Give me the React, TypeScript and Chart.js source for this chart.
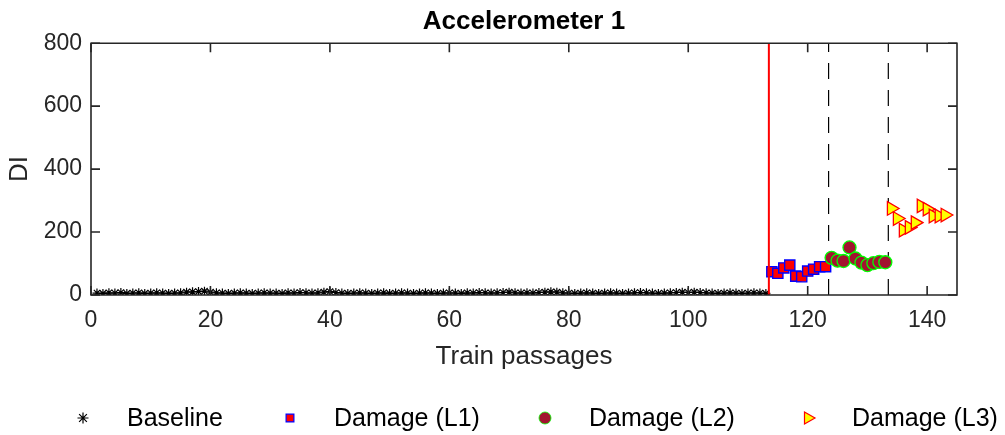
import React, { useEffect, useRef } from 'react';
import { Chart, registerables } from 'chart.js';
import { drawPoint } from 'chart.js/helpers';

Chart.register(...registerables);

// ---- data ----
const baselineDI = [
  6, 5, 7, 6, 8, 5, 6, 7, 5, 6, 7, 6, 5, 6, 7,
  9, 10, 11, 12, 9,
  7, 6, 5, 6, 7, 6, 5, 6, 7, 6, 6, 5, 7, 6, 8, 7, 6, 7, 9, 11,
  8, 6, 5, 6, 7, 6, 5, 6, 7, 5, 6, 7, 6, 5, 6, 7, 6, 5, 6, 7,
  6, 5, 7, 6, 8, 7, 6, 7, 8, 9, 7, 6, 7, 6, 8, 9, 10, 9, 7, 6,
  5, 6, 7, 6, 5, 6, 7, 6, 5, 6, 7, 8, 7, 6, 5, 6, 7, 8, 9, 8,
  9, 8, 7, 6, 5, 6, 7, 6, 5, 6, 7, 6, 5,
];
const damageL1DI = [74, 69, 86, 95, 60, 58, 76, 82, 90, 90];
const damageL2DI = [118, 109, 108, 151, 116, 103, 95, 101, 105, 104];
const damageL3DI = [275, 243, 206, 215, 230, 283, 273, 251, 251, 254];

const baselineStart = 1;
const l1Start = 114;
const l2Start = 124;
const l3Start = 134;

const damageOnset = 113.5;
const levelChanges = [123.5, 133.5];

const seriesLabels = ['Baseline', 'Damage (L1)', 'Damage (L2)', 'Damage (L3)'];
const chartTitle = 'Accelerometer 1';
const xTitle = 'Train passages';
const yTitle = 'DI';
const xRange = [0, 145];
const yRange = [0, 800];
const xStep = 20;
const yStep = 200;

// ---- styles ----
const FONT = 'Liberation Sans, Arial, Helvetica, sans-serif';
const AXIS_COLOR = '#262626';

const markerStyles = [
  { pointStyle: 'star', radius: 4.5, fill: '#000000', stroke: '#000000', border: 1.2, rotation: 0, legendRadius: 5.5, legendBorder: 1.2 },
  { pointStyle: 'rect', radius: 7.2, fill: '#FF0000', stroke: '#0000FF', border: 1.4, rotation: 0, legendRadius: 5.5, legendBorder: 1.2 },
  { pointStyle: 'circle', radius: 6.5, fill: '#A2142F', stroke: '#00FF00', border: 1.3, rotation: 0, legendRadius: 6, legendBorder: 0.8 },
  { pointStyle: 'triangle', radius: 7.8, fill: '#FFFF00', stroke: '#FF0000', border: 1.3, rotation: 90, legendRadius: 7, legendBorder: 1.2 },
];

const toPoints = (vals: number[], start: number) => vals.map((y, i) => ({ x: start + i, y }));

const frameTicksPlugin = {
  id: 'frameTicks',
  afterDatasetsDraw(chart: any) {
    const { ctx, chartArea, scales } = chart;
    const { left, right, top, bottom } = chartArea;
    const len = 9;
    ctx.save();
    ctx.strokeStyle = AXIS_COLOR;
    ctx.lineWidth = 1.6;
    ctx.beginPath();
    ctx.rect(left, top, right - left, bottom - top);
    ctx.stroke();
    ctx.beginPath();
    scales.x.ticks.forEach((t: any) => {
      const px = scales.x.getPixelForValue(t.value);
      ctx.moveTo(px, bottom);
      ctx.lineTo(px, bottom - len);
      ctx.moveTo(px, top);
      ctx.lineTo(px, top + len);
    });
    scales.y.ticks.forEach((t: any) => {
      const py = scales.y.getPixelForValue(t.value);
      ctx.moveTo(left, py);
      ctx.lineTo(left + len, py);
      ctx.moveTo(right, py);
      ctx.lineTo(right - len, py);
    });
    ctx.stroke();
    ctx.restore();
  },
};

const legendMarkerX = [83, 290, 545, 808];
const legendTextGap = 44;
const legendY = 418;

const legendPlugin = {
  id: 'bottomLegend',
  afterDraw(chart: any) {
    const { ctx } = chart;
    ctx.save();
    ctx.font = `25px ${FONT}`;
    ctx.textBaseline = 'middle';
    ctx.textAlign = 'left';
    seriesLabels.forEach((label, i) => {
      const m = markerStyles[i];
      ctx.fillStyle = m.fill;
      ctx.strokeStyle = m.stroke;
      ctx.lineWidth = m.legendBorder;
      drawPoint(ctx, { pointStyle: m.pointStyle as any, radius: m.legendRadius, rotation: m.rotation, borderWidth: m.legendBorder }, legendMarkerX[i], legendY);
      ctx.fillStyle = '#000000';
      ctx.fillText(label, legendMarkerX[i] + legendTextGap, legendY + 1);
    });
    ctx.restore();
  },
};

export default function App() {
  const canvasRef = useRef<HTMLCanvasElement | null>(null);

  useEffect(() => {
    document.body.style.margin = '0';
    const canvas = canvasRef.current;
    if (!canvas) return;

    const seriesData = [
      toPoints(baselineDI, baselineStart),
      toPoints(damageL1DI, l1Start),
      toPoints(damageL2DI, l2Start),
      toPoints(damageL3DI, l3Start),
    ];

    const markerDatasets = seriesData.map((data, i) => {
      const m = markerStyles[i];
      return {
        type: 'scatter' as const,
        label: seriesLabels[i],
        data,
        pointStyle: m.pointStyle,
        pointRadius: m.radius,
        pointRotation: m.rotation,
        backgroundColor: m.fill,
        borderColor: m.stroke,
        borderWidth: m.border,
        showLine: false,
        order: 4 - i,
      };
    });

    const onsetLine = {
      type: 'line' as const,
      label: 'onset',
      data: [{ x: damageOnset, y: yRange[0] }, { x: damageOnset, y: yRange[1] }],
      borderColor: '#FF0000',
      borderWidth: 2,
      pointRadius: 0,
      fill: false,
      order: 0,
    };

    const changeLines = levelChanges.map((v) => ({
      type: 'line' as const,
      label: 'change',
      data: [{ x: v, y: yRange[0] }, { x: v, y: yRange[1] }],
      borderColor: '#000000',
      borderWidth: 1.2,
      borderDash: [16, 11],
      pointRadius: 0,
      fill: false,
      order: 10,
    }));

    const chart = new Chart(canvas, {
      type: 'scatter',
      data: { datasets: [...changeLines, ...markerDatasets, onsetLine] as any },
      options: {
        responsive: false,
        animation: false,
        events: [],
        layout: { padding: { left: 0, right: 48, top: 0, bottom: 60 } },
        plugins: {
          legend: { display: false },
          tooltip: { enabled: false },
          title: {
            display: true,
            fullSize: false,
            text: chartTitle,
            color: '#000000',
            font: { family: FONT, size: 26, weight: 'bold' },
            padding: { top: 6, bottom: 6 },
          },
        },
        scales: {
          x: {
            type: 'linear',
            min: xRange[0],
            max: xRange[1],
            grid: { display: false, drawTicks: false },
            border: { display: false },
            ticks: {
              stepSize: xStep,
              includeBounds: false,
              color: AXIS_COLOR,
              font: { family: FONT, size: 23 },
              padding: 12,
              maxRotation: 0,
            },
            title: {
              display: true,
              text: xTitle,
              color: AXIS_COLOR,
              font: { family: FONT, size: 26 },
              padding: { top: 0, bottom: 3 },
            },
            afterFit: (s: any) => { s.height = 80; },
          },
          y: {
            type: 'linear',
            min: yRange[0],
            max: yRange[1],
            grid: { display: false, drawTicks: false },
            border: { display: false },
            ticks: {
              stepSize: yStep,
              color: AXIS_COLOR,
              font: { family: FONT, size: 23 },
              padding: 9,
            },
            title: {
              display: true,
              text: yTitle,
              color: AXIS_COLOR,
              font: { family: FONT, size: 26 },
              padding: { top: 4, bottom: 0 },
            },
            afterFit: (s: any) => { s.width = 91; },
          },
        },
      } as any,
      plugins: [frameTicksPlugin, legendPlugin],
    });

    return () => chart.destroy();
  }, []);

  return (
    <div style={{ width: 1005, height: 435, background: '#ffffff' }}>
      <canvas ref={canvasRef} width={1005} height={435} />
    </div>
  );
}
